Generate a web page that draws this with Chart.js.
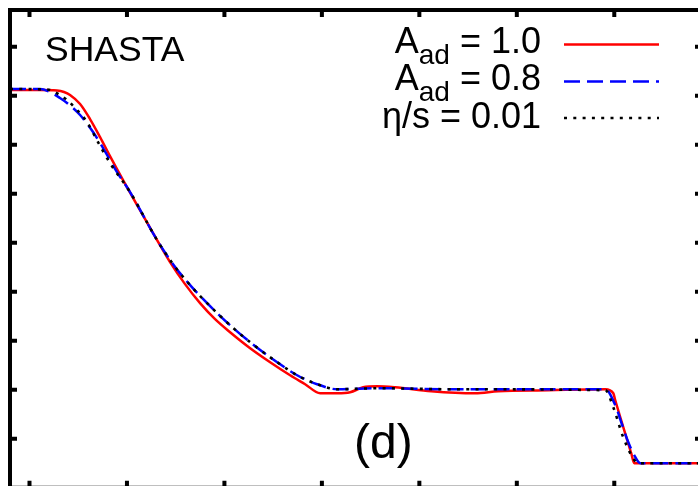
<!DOCTYPE html>
<html>
<head>
<meta charset="utf-8">
<style>
  html, body { margin: 0; padding: 0; background: #fff; overflow: hidden; width: 698px; height: 486px; }
  #plot { position: absolute; left: 0; top: 0; }
</style>
<script src="https://cdn.jsdelivr.net/npm/chart.js@4/dist/chart.umd.min.js"></script>
</head>
<body>
<canvas id="plot" width="720" height="510"></canvas>
<script>
// Energy density profile of the shock-tube test (SHASTA), panel (d)
const xTicks = [-3, -2, -1, 0, 1, 2, 3];
const yTicks = [1, 2, 3, 4, 5, 6, 7, 8, 9];

// A_ad = 1.0
const redX = [-3.2, -2.892, -2.718, -2.646, -2.584, -2.481, -2.379, -2.276, -2.174, -2.040,
  -1.896, -1.691, -1.558, -1.404, -1.250, -1.096, -0.942, -0.736, -0.531, -0.326,
  -0.172, -0.018, 0.157, 0.290, 0.423, 0.567, 0.752, 1.122, 1.573, 1.809,
  2.323, 2.908, 2.990, 3.010, 3.174, 3.205, 3.9];
const redY = [8.117, 8.117, 8.107, 8.076, 8.015, 7.831, 7.525, 7.157, 6.769, 6.279,
  5.769, 5.054, 4.605, 4.156, 3.768, 3.441, 3.175, 2.849, 2.563, 2.297,
  2.114, 1.930, 1.930, 1.950, 2.052, 2.073, 2.052, 1.971, 1.930, 1.971,
  1.991, 2.011, 1.930, 1.787, 0.705, 0.500, 0.500];

// A_ad = 0.8
const blueX = [-3.2, -2.892, -2.789, -2.687, -2.615, -2.481, -2.348, -2.245, -2.102, -1.968,
  -1.691, -1.527, -1.352, -1.147, -0.942, -0.736, -0.459, -0.254, -0.049, 0.157,
  0.608, 1.316, 2.908, 3.010, 3.082, 3.144, 3.205, 3.267, 3.9];
const blueY = [8.138, 8.138, 8.076, 7.954, 7.852, 7.607, 7.260, 6.933, 6.443, 6.034,
  5.054, 4.564, 4.135, 3.706, 3.318, 2.971, 2.563, 2.297, 2.114, 2.011,
  2.032, 2.011, 2.011, 1.685, 1.276, 0.929, 0.664, 0.500, 0.500];

// eta/s = 0.01
const blackX = [-3.2, -2.841, -2.789, -2.687, -2.615, -2.512, -2.410, -2.297, -2.174, -1.968,
  -1.691, -1.527, -1.352, -1.147, -0.942, -0.736, -0.459, -0.254, -0.049, 0.157,
  0.608, 1.316, 2.908, 2.990, 3.092, 3.215, 3.246, 3.9];
const blackY = [8.138, 8.128, 8.117, 8.015, 7.913, 7.709, 7.464, 7.055, 6.626, 6.034,
  5.054, 4.564, 4.135, 3.706, 3.318, 2.971, 2.563, 2.297, 2.114, 2.011,
  2.032, 2.011, 1.991, 1.644, 1.031, 0.541, 0.500, 0.500];

const seriesLabels = ['A_ad = 1.0', 'A_ad = 0.8', 'η/s = 0.01'];
const seriesColors = ['#ff0000', '#0000ff', '#000000'];
const seriesDashes = [[], [16, 7], [3, 6.3]];
const methodLabel = 'SHASTA';
const panelLabel = '(d)';

const FONT = '"Liberation Sans", Arial, Helvetica, sans-serif';

function pts(xs, ys) { return xs.map((x, i) => ({ x: x, y: ys[i] })); }

function richParts(text) {
  const m = text.match(/^(.*?)_(\w+)(.*)$/);
  if (!m) return [{ t: text, sub: false }];
  return [{ t: m[1], sub: false }, { t: m[2], sub: true }, { t: m[3], sub: false }];
}

function drawRight(ctx, text, xr, yb, size) {
  const parts = richParts(text);
  const subSize = size * 0.78;
  let total = 0;
  parts.forEach(p => {
    ctx.font = (p.sub ? subSize : size) + 'px ' + FONT;
    p.w = ctx.measureText(p.t).width;
    total += p.w;
  });
  let x = xr - total;
  parts.forEach(p => {
    ctx.font = (p.sub ? subSize : size) + 'px ' + FONT;
    ctx.fillText(p.t, x, p.sub ? yb + size * 0.3 : yb);
    x += p.w;
  });
}

const framePlugin = {
  id: 'frame',
  afterDraw(chart) {
    const ctx = chart.ctx;
    const a = chart.chartArea;
    const xs = chart.scales.x, ys = chart.scales.y;
    ctx.save();
    ctx.strokeStyle = '#000';
    ctx.lineWidth = 4;
    ctx.lineCap = 'square';
    ctx.setLineDash([]);
    ctx.beginPath();
    ctx.rect(a.left, a.top, a.right - a.left, a.bottom - a.top);
    ctx.stroke();
    // inward ticks on all four sides
    const tl = 7;
    ctx.lineCap = 'butt';
    ctx.beginPath();
    xTicks.forEach(v => {
      const px = xs.getPixelForValue(v);
      ctx.moveTo(px, a.top); ctx.lineTo(px, a.top + tl);
      ctx.moveTo(px, a.bottom); ctx.lineTo(px, a.bottom - tl);
    });
    yTicks.forEach(v => {
      const py = ys.getPixelForValue(v);
      ctx.moveTo(a.left, py); ctx.lineTo(a.left + tl, py);
      ctx.moveTo(a.right, py); ctx.lineTo(a.right - tl, py);
    });
    ctx.stroke();

    ctx.fillStyle = '#000';
    ctx.textBaseline = 'alphabetic';
    ctx.textAlign = 'left';
    ctx.font = '35.5px ' + FONT;
    ctx.fillText(methodLabel, 45, 61);
    ctx.font = '48px ' + FONT;
    ctx.fillText(panelLabel, 354, 458);

    // key
    const baselines = [53, 90, 128];
    const lineYs = [44.5, 81.5, 118];
    seriesLabels.forEach((lab, i) => {
      ctx.fillStyle = '#000';
      drawRight(ctx, lab, 541, baselines[i], 36);
      ctx.strokeStyle = seriesColors[i];
      ctx.lineWidth = i === 2 ? 2.6 : 2.5;
      ctx.setLineDash(seriesDashes[i]);
      ctx.beginPath();
      ctx.moveTo(564, lineYs[i]);
      ctx.lineTo(659, lineYs[i]);
      ctx.stroke();
    });
    ctx.restore();
  }
};

new Chart(document.getElementById('plot'), {
  type: 'line',
  data: {
    datasets: [
      { label: seriesLabels[0], data: pts(redX, redY), borderColor: seriesColors[0],
        borderWidth: 2.5, borderDash: seriesDashes[0], order: 3 },
      { label: seriesLabels[1], data: pts(blueX, blueY), borderColor: seriesColors[1],
        borderWidth: 2.5, borderDash: seriesDashes[1], order: 2 },
      { label: seriesLabels[2], data: pts(blackX, blackY), borderColor: seriesColors[2],
        borderWidth: 2.6, borderDash: seriesDashes[2], order: 1 }
    ]
  },
  options: {
    responsive: false,
    devicePixelRatio: 1,
    animation: false,
    events: [],
    layout: { padding: { left: 10, top: 10, right: 18, bottom: 22.2 } },
    elements: {
      point: { radius: 0 },
      line: { cubicInterpolationMode: 'monotone', borderJoinStyle: 'round', fill: false }
    },
    scales: {
      x: { type: 'linear', min: -3.2, max: 3.9, display: false },
      y: { type: 'linear', min: 0, max: 9.75, display: false }
    },
    plugins: { legend: { display: false }, tooltip: { enabled: false } }
  },
  plugins: [framePlugin]
});
</script>
</body>
</html>
